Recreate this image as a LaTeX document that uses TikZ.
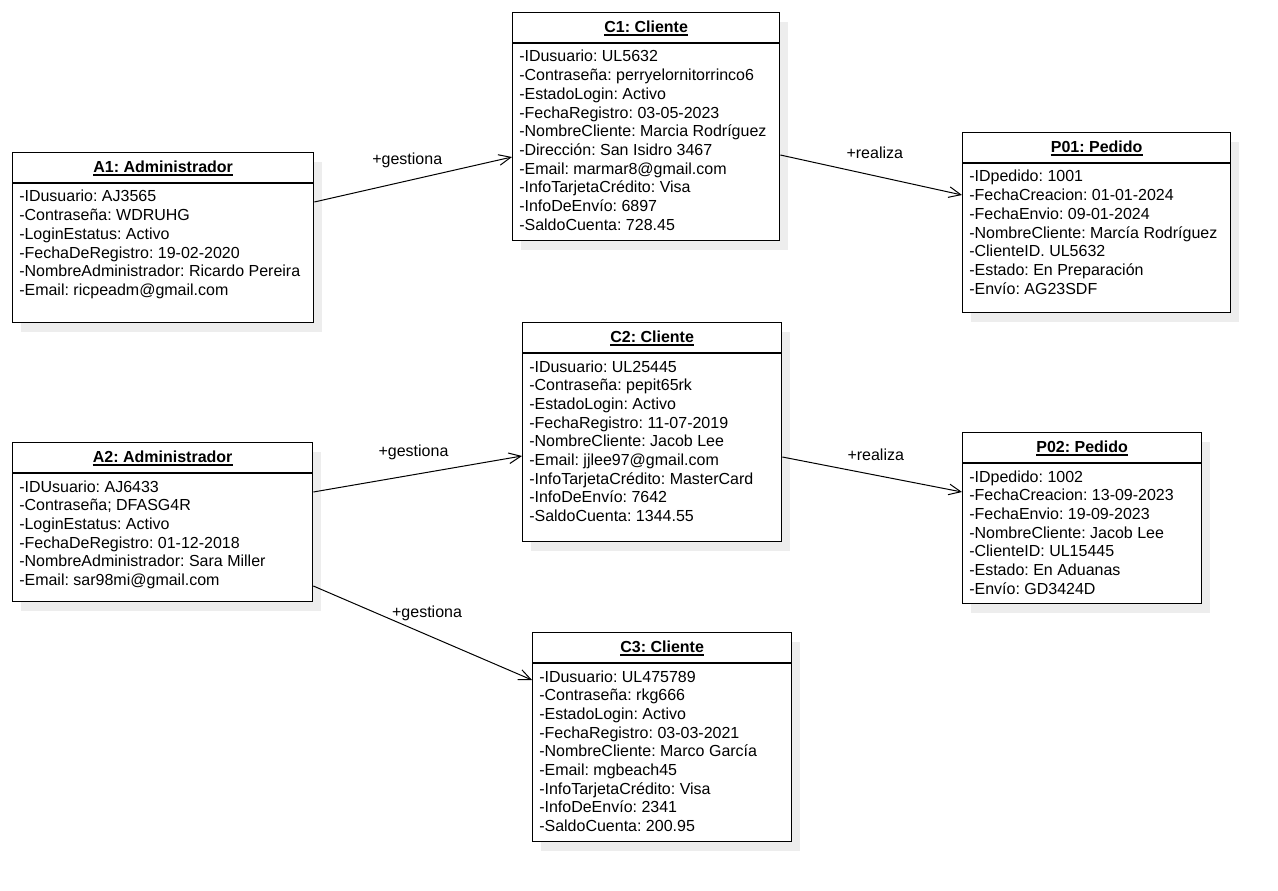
\documentclass[tikz,border=0pt]{standalone}
\usepackage{fontspec}
\setmainfont{Liberation Sans}
\usetikzlibrary{arrows.meta,calc,shadows}
\frenchspacing
\tikzstyle{objbox}=[draw,line width=1pt,fill=white,anchor=north west,inner sep=0pt,
  drop shadow={shadow xshift=6.5pt,shadow yshift=-7pt,fill=black!7,opacity=1}]
\tikzstyle{objtitle}=[font=\fontsize{12}{14}\selectfont\bfseries,inner sep=0pt,anchor=base]
\tikzstyle{attr}=[inner sep=0pt,anchor=base west]
\tikzstyle{assoc}=[draw,line width=0.75pt,-{Straight Barb[length=9pt,width=8pt]}]
\tikzstyle{rolename}=[inner sep=0pt]

\begin{document}
\begin{tikzpicture}[x=0.75pt,y=-0.75pt,font=\fontsize{12}{14}\selectfont]
\useasboundingbox (0,0) rectangle (1278,891);

% objects: name/x/y/width/height/title/attributes
\foreach \name/\bx/\by/\bw/\bh/\head/\attrs in {%
  A1/12/152/301/170/{A1: Administrador}/{-IDusuario: AJ3565,-Contraseña: WDRUHG,-LoginEstatus: Activo,-FechaDeRegistro: 19-02-2020,-NombreAdministrador: Ricardo Pereira,-Email: ricpeadm@gmail.com},%
  C1/512/12/267/228/{C1: Cliente}/{-IDusuario: UL5632,-Contraseña: perryelornitorrinco6,-EstadoLogin: Activo,-FechaRegistro: 03-05-2023,-NombreCliente: Marcia Rodríguez,-Dirección: San Isidro 3467,-Email: marmar8@gmail.com,-InfoTarjetaCrédito: Visa,-InfoDeEnvío: 6897,-SaldoCuenta: 728.45},%
  P01/962/132/268/180/{P01: Pedido}/{-IDpedido: 1001,-FechaCreacion: 01-01-2024,-FechaEnvio: 09-01-2024,-NombreCliente: Marcía Rodríguez,-ClienteID. UL5632,-Estado: En Preparación,-Envío: AG23SDF},%
  A2/12/442/300/159/{A2: Administrador}/{-IDUsuario: AJ6433,-Contraseña; DFASG4R,-LoginEstatus: Activo,-FechaDeRegistro: 01-12-2018,-NombreAdministrador: Sara Miller,-Email: sar98mi@gmail.com},%
  C2/522/322/259/219/{C2: Cliente}/{-IDusuario: UL25445,-Contraseña: pepit65rk,-EstadoLogin: Activo,-FechaRegistro: 11-07-2019,-NombreCliente: Jacob Lee,-Email: jjlee97@gmail.com,-InfoTarjetaCrédito: MasterCard,-InfoDeEnvío: 7642,-SaldoCuenta: 1344.55},%
  P02/962/432/239/171/{P02: Pedido}/{-IDpedido: 1002,-FechaCreacion: 13-09-2023,-FechaEnvio: 19-09-2023,-NombreCliente: Jacob Lee,-ClienteID: UL15445,-Estado: En Aduanas,-Envío: GD3424D},%
  C3/532/632/259/209/{C3: Cliente}/{-IDusuario: UL475789,-Contraseña: rkg666,-EstadoLogin: Activo,-FechaRegistro: 03-03-2021,-NombreCliente: Marco García,-Email: mgbeach45,-InfoTarjetaCrédito: Visa,-InfoDeEnvío: 2341,-SaldoCuenta: 200.95}%
}{
  \node[objbox,minimum width=\bw*0.75pt,minimum height=\bh*0.75pt] (\name) at (\bx,\by) {};
  \draw[line width=1pt] ($(\name.north west)+(0,31)$) -- ($(\name.north east)+(0,31)$);
  \node[objtitle] (\name-t) at ($(\name.north)+(0,20.5)$) {\head};
  \draw[line width=0.9pt] ($(\name-t.base west)+(0,2.5)$) -- ($(\name-t.base east)+(0,2.5)$);
  \foreach \a [count=\i] in \attrs
    \node[attr] (\name-\i) at ($(\name.north west)+(7,{50+18.7*(\i-1)})$) {\a};
}

% links: from/offset/to/offset/label/pos/shift
\foreach \from/\fy/\to/\ty/\lbl/\p/\dy in {A1/50/C1/145/gestiona/0.47/15.5pt,%
  C1/143/P01/63/realiza/0.52/17pt,%
  A2/50/C2/134/gestiona/0.48/16.5pt,%
  A2/144/C3/48/gestiona/0.52/16.5pt,%
  C2/135/P02/60/realiza/0.52/15pt}
  \draw[assoc] ($(\from.north east)+(0,\fy)$) -- node[rolename,pos=\p,yshift=\dy] (\from\to) {+\lbl} ($(\to.north west)+(0,\ty)$);

\end{tikzpicture}
\end{document}
